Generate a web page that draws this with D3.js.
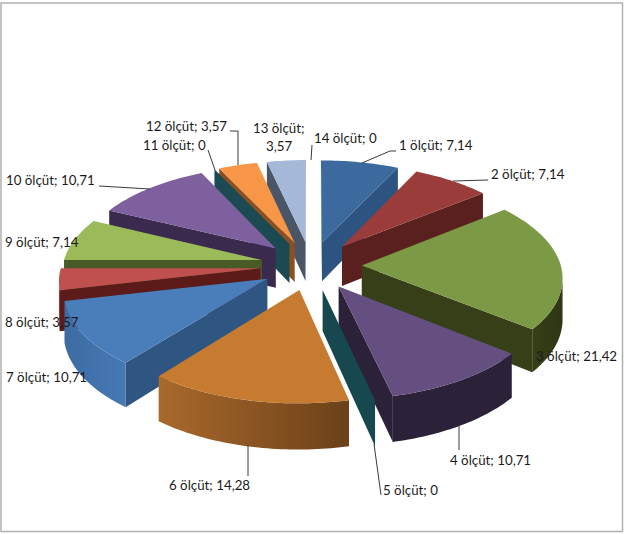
<!DOCTYPE html>
<html>
<head>
<meta charset="utf-8">
<script src="https://cdn.jsdelivr.net/npm/d3@7"></script>
<style>
  html, body { margin: 0; padding: 0; background: #fff; }
  svg { display: block; }
  text { font-family: Lato, "Open Sans", sans-serif; font-size: 13.3px; fill: #1a1a1a; }
</style>
</head>
<body>
<div id="chart"></div>
<script>
// chart data
const categories = ["1 ölçüt", "2 ölçüt", "3 ölçüt", "4 ölçüt", "5 ölçüt", "6 ölçüt", "7 ölçüt",
    "8 ölçüt", "9 ölçüt", "10 ölçüt", "11 ölçüt", "12 ölçüt", "13 ölçüt", "14 ölçüt"];
const values = [7.14, 7.14, 21.42, 10.71, 0, 14.28, 10.71, 3.57, 7.14, 10.71, 0, 3.57, 3.57, 0];

// slice colours: top face, radial wall, outer wall left and right
const topColors = ["#3c6a9f", "#993c3a", "#7c9a46", "#654f81", "#1c4c55", "#c77b31", "#4a7ebb",
    "#c0504d", "#9bbb59", "#7f609f", "#1c4c55", "#f79646", "#a6b8d8", "#d99694"];
const wallColors = ["#2d5480", "#5a201e", "#363f17", "#2b2139", "#17474f", "#6e4319", "#2f5680",
    "#5c1a18", "#4a5a27", "#3a2a4e", "#1b4a53", "#8a5020", "#4a5568", "#8a5f5e"];
const outerFrom = ["#2d5480", "#5a201e", "#363f17", "#2b2139", "#17474f", "#a9692b", "#3d6ca3",
    "#7a2a28", "#4a5a27", "#3a2a4e", "#1b4a53", "#8a5020", "#4a5568", "#8a5f5e"];
const outerTo = ["#2d5480", "#5a201e", "#2e3614", "#2b2139", "#17474f", "#6b4119", "#4678b4",
    "#5c1a18", "#4a5a27", "#3a2a4e", "#1b4a53", "#8a5020", "#4a5568", "#8a5f5e"];

// label layout: left edge and baseline of each label
const labelLayout = [
    [399, 150], [491, 179], [536, 361], [450, 465], [383, 495], [169, 490], [6, 382],
    [5, 327], [5, 247], [6, 185], [143, 150], [146, 131], [253, 133], [314, 143]
];

// leader lines, in picture pixels
const leaders = [
    [[362, 163], [390, 151], [396, 151]],
    [[453, 181], [488, 180]],
    [[459, 425], [459, 450]],
    [[374, 444], [381, 495]],
    [[248, 445], [248, 476]],
    [[99, 186], [150, 189]],
    [[208, 150], [215, 170]],
    [[230, 131], [238, 131], [238, 165]],
    [[312, 145], [311, 160]]
];

const width = 627, height = 534;
const explode = 0.255;   // how far slices are pulled out, in radii
const perspective = 0.108;
const depth = 40;

const xScale = d3.scaleLinear().domain([-1, 1]).range([112, 510]);
const yScale = d3.scaleLinear().domain([-1, 1]).range([170, 361]);

// disk coords to screen: t grows toward the viewer, z drops the point down the wall
function project(x, t, z) {
    const s = 1 / (1 - perspective * t);
    return [xScale(x * s), yScale(t * s) + (z || 0) * s];
}

const svg = d3.select("#chart").append("svg")
    .attr("width", width)
    .attr("height", height);

const defs = svg.append("defs");

svg.append("rect")
    .attr("x", 1).attr("y", 3)
    .attr("width", 621.5).attr("height", 528.5)
    .attr("fill", "#fff")
    .attr("stroke", "#b0b0b0")
    .attr("stroke-width", 1.5);

const pie = d3.pie().sort(null).value(d => d.value);
const slices = pie(values.map((value, i) => ({ value, i })));

const line = d3.line();

// back slices first so the front ones paint over them
const ordered = slices.slice().sort((a, b) =>
    Math.cos((b.startAngle + b.endAngle) / 2) - Math.cos((a.startAngle + a.endAngle) / 2));

ordered.forEach(d => {
    const i = d.data.i;
    const mid = (d.startAngle + d.endAngle) / 2;
    const ox = explode * Math.sin(mid);
    const ot = -explode * Math.cos(mid);
    const point = (a, r, z) => project(ox + r * Math.sin(a), ot - r * Math.cos(a), z);

    const steps = Math.max(1, Math.ceil((d.endAngle - d.startAngle) / 0.02));
    const angles = d3.range(steps + 1).map(k => d.startAngle + (d.endAngle - d.startAngle) * k / steps);
    const g = svg.append("g").attr("class", "slice");

    const apex = point(0, 0);
    const first = point(d.startAngle, 1);
    const last = point(d.endAngle, 1);
    const radialWall = a => [point(a, 0), point(a, 1), point(a, 1, depth), point(a, 0, depth)];

    if (d.value === 0) {
        g.append("path").attr("d", line(radialWall(d.startAngle)) + "Z").attr("fill", wallColors[i]);
        return;
    }

    // only the walls that face the viewer
    if (first[0] < apex[0]) {
        g.append("path").attr("d", line(radialWall(d.startAngle)) + "Z").attr("fill", wallColors[i]);
    }
    if (last[0] > apex[0]) {
        g.append("path").attr("d", line(radialWall(d.endAngle)) + "Z").attr("fill", wallColors[i]);
    }

    // outer wall: the part of the rim running right to left on screen
    const rim = angles.filter((a, k) => k > 0
        ? point(a, 1)[0] < point(angles[k - 1], 1)[0]
        : point(angles[1], 1)[0] < point(a, 1)[0]);
    if (rim.length > 1) {
        const upper = rim.map(a => point(a, 1));
        const lower = rim.map(a => point(a, 1, depth)).reverse();
        const gradId = "outer" + i;
        const grad = defs.append("linearGradient")
            .attr("id", gradId)
            .attr("gradientUnits", "userSpaceOnUse")
            .attr("x1", d3.min(upper, p => p[0])).attr("x2", d3.max(upper, p => p[0]))
            .attr("y1", 0).attr("y2", 0);
        grad.append("stop").attr("offset", 0).attr("stop-color", outerFrom[i]);
        grad.append("stop").attr("offset", 1).attr("stop-color", outerTo[i]);
        g.append("path").attr("d", line(upper.concat(lower)) + "Z").attr("fill", `url(#${gradId})`);
    }

    // top face
    const top = [apex].concat(angles.map(a => point(a, 1)));
    g.append("path").attr("d", line(top) + "Z").attr("fill", topColors[i]);
});

// leader lines
svg.selectAll(".leader")
    .data(leaders)
    .enter().append("path")
    .attr("class", "leader")
    .attr("d", d => line(d))
    .attr("fill", "none")
    .attr("stroke", "#3a3a3a")
    .attr("stroke-width", 1);

// labels, number 13 wraps onto two lines
const labels = svg.selectAll(".label")
    .data(categories)
    .enter().append("text")
    .attr("class", "label")
    .attr("x", (d, i) => labelLayout[i][0])
    .attr("y", (d, i) => labelLayout[i][1])
    .text((d, i) => i === 12 ? d + ";" : d + "; " + String(values[i]).replace(".", ","));

svg.append("text")
    .attr("x", labelLayout[12][0] + 13)
    .attr("y", labelLayout[12][1] + 18)
    .text(String(values[12]).replace(".", ","));
</script>
</body>
</html>
